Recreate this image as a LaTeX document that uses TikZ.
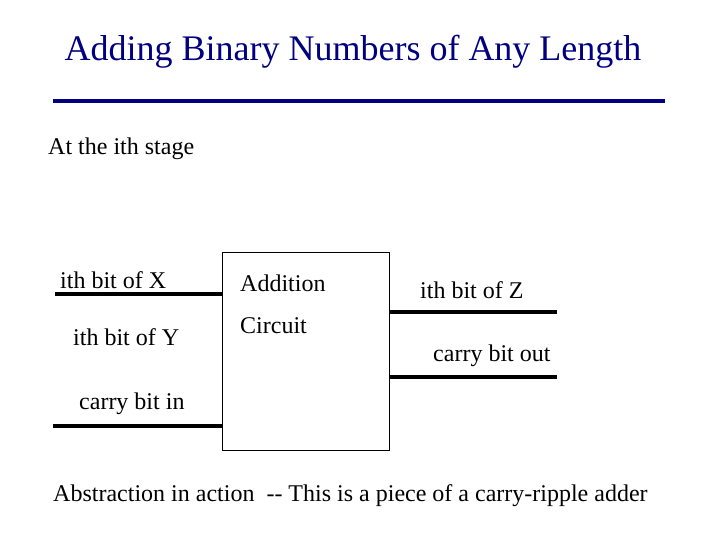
\documentclass[tikz,border=0pt]{standalone}
\usepackage{fontspec}
\setmainfont{Liberation Serif}
\definecolor{navy}{RGB}{0,0,128}
\tikzset{
  txt/.style={anchor=west,inner sep=0pt,font=\fontsize{24}{28}\selectfont},
  wire/.style={line width=3.5pt,black}
}
\begin{document}
\begin{tikzpicture}[x=1pt,y=-1pt]
    \useasboundingbox (0,0) rectangle (720,540);
    \node[inner sep=0pt,navy,font=\fontsize{36}{40}\selectfont] (title) at (353,52) {Adding Binary Numbers of Any Length};
    \coordinate (rl) at (53,101);
    \coordinate (rr) at (665,101);
    \draw[line width=4pt,navy] (rl) -- (rr);
    \node[txt] (stage) at (48,149) {At the ith stage};
    % the circuit box
    \node[draw,thin,minimum width=167pt,minimum height=198pt,inner sep=0pt] (box) at (305.5,351) {};
    \node[txt] (add) at (240,283) {Addition};
    \node[txt] (circ) at (240,326) {Circuit};
    % inputs
    \node[txt] (x) at (60,280) {ith bit of X};
    \node[txt] (y) at (73,337) {ith bit of Y};
    \node[txt] (cin) at (79,404) {carry bit in};
    \coordinate (xs) at (55,294);
    \coordinate (cs) at (53,426);
    \draw[wire] (xs) -- (xs -| box.west);
    \draw[wire] (cs) -- (cs -| box.west);
    % outputs
    \node[txt] (z) at (420,290) {ith bit of Z};
    \node[txt] (cout) at (433,356) {carry bit out};
    \coordinate (ze) at (557,312);
    \coordinate (ce) at (557,377);
    \draw[wire] (ze -| box.east) -- (ze);
    \draw[wire] (ce -| box.east) -- (ce);
    \node[txt] (note) at (53,496) {Abstraction in action\ \ {-}{-} This is a piece of a carry-ripple adder};
\end{tikzpicture}
\end{document}
